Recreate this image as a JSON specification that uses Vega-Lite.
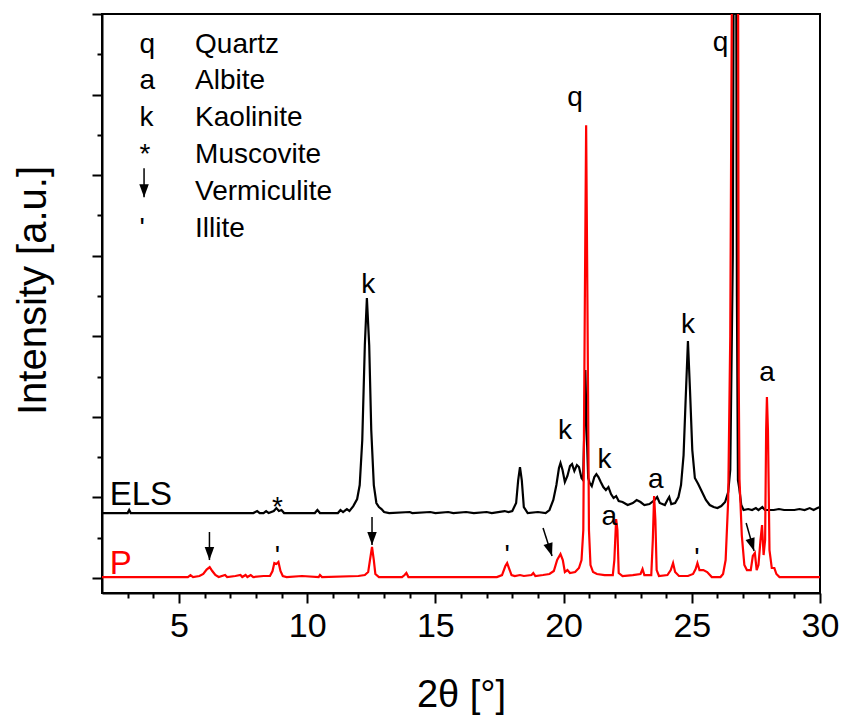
{
  "$schema": "https://vega.github.io/schema/vega-lite/v6.json",
  "width": 718,
  "height": 579,
  "autosize": {"type": "none"},
  "padding": {"left": 102, "top": 14, "right": 23, "bottom": 123},
  "background": "white",
  "config": {
    "font": "Liberation Sans",
    "view": {"stroke": "black", "strokeWidth": 2},
    "axis": {"grid": false, "domainColor": "black", "domainWidth": 2, "tickColor": "black", "tickWidth": 2, "labelColor": "black", "titleColor": "black", "titleFontWeight": "normal", "labelFont": "Liberation Sans", "titleFont": "Liberation Sans", "labelOverlap": false, "labelBound": false, "labelFlush": false}
  },
  "resolve": {"axis": {"x": "independent", "y": "independent"}},
  "datasets": {
    "xrd": [
      {"s":"ELS","x":2.0,"y":0.806},{"s":"ELS","x":3.0,"y":0.806},{"s":"ELS","x":3.06,"y":0.844},{"s":"ELS","x":3.12,"y":0.806},{"s":"ELS","x":6.0,"y":0.806},{"s":"ELS","x":7.9,"y":0.806},{"s":"ELS","x":8.05,"y":0.831},{"s":"ELS","x":8.15,"y":0.806},{"s":"ELS","x":8.3,"y":0.806},{"s":"ELS","x":8.4,"y":0.831},{"s":"ELS","x":8.5,"y":0.806},{"s":"ELS","x":8.7,"y":0.831},{"s":"ELS","x":8.8,"y":0.868},{"s":"ELS","x":8.9,"y":0.831},{"s":"ELS","x":9.0,"y":0.844},{"s":"ELS","x":9.1,"y":0.806},{"s":"ELS","x":10.3,"y":0.806},{"s":"ELS","x":10.4,"y":0.844},{"s":"ELS","x":10.5,"y":0.806},{"s":"ELS","x":11.2,"y":0.806},{"s":"ELS","x":11.3,"y":0.844},{"s":"ELS","x":11.4,"y":0.819},{"s":"ELS","x":11.55,"y":0.856},{"s":"ELS","x":11.65,"y":0.831},{"s":"ELS","x":11.8,"y":0.893},{"s":"ELS","x":11.95,"y":0.98},{"s":"ELS","x":12.05,"y":1.154},{"s":"ELS","x":12.15,"y":1.712},{"s":"ELS","x":12.25,"y":2.891},{"s":"ELS","x":12.33,"y":3.474},{"s":"ELS","x":12.42,"y":2.891},{"s":"ELS","x":12.5,"y":1.836},{"s":"ELS","x":12.6,"y":1.154},{"s":"ELS","x":12.7,"y":0.931},{"s":"ELS","x":12.8,"y":0.881},{"s":"ELS","x":12.9,"y":0.856},{"s":"ELS","x":13.0,"y":0.819},{"s":"ELS","x":13.2,"y":0.806},{"s":"ELS","x":14.0,"y":0.819},{"s":"ELS","x":14.1,"y":0.806},{"s":"ELS","x":14.8,"y":0.819},{"s":"ELS","x":15.0,"y":0.806},{"s":"ELS","x":15.5,"y":0.819},{"s":"ELS","x":15.7,"y":0.806},{"s":"ELS","x":16.2,"y":0.819},{"s":"ELS","x":16.5,"y":0.806},{"s":"ELS","x":17.0,"y":0.819},{"s":"ELS","x":17.2,"y":0.806},{"s":"ELS","x":17.7,"y":0.831},{"s":"ELS","x":17.85,"y":0.819},{"s":"ELS","x":18.0,"y":0.831},{"s":"ELS","x":18.15,"y":0.931},{"s":"ELS","x":18.23,"y":1.216},{"s":"ELS","x":18.3,"y":1.377},{"s":"ELS","x":18.37,"y":1.216},{"s":"ELS","x":18.45,"y":0.881},{"s":"ELS","x":18.6,"y":0.806},{"s":"ELS","x":19.0,"y":0.819},{"s":"ELS","x":19.3,"y":0.806},{"s":"ELS","x":19.45,"y":0.844},{"s":"ELS","x":19.6,"y":0.968},{"s":"ELS","x":19.72,"y":1.154},{"s":"ELS","x":19.82,"y":1.365},{"s":"ELS","x":19.88,"y":1.427},{"s":"ELS","x":19.96,"y":1.34},{"s":"ELS","x":20.05,"y":1.191},{"s":"ELS","x":20.15,"y":1.266},{"s":"ELS","x":20.25,"y":1.39},{"s":"ELS","x":20.33,"y":1.414},{"s":"ELS","x":20.42,"y":1.328},{"s":"ELS","x":20.52,"y":1.402},{"s":"ELS","x":20.6,"y":1.377},{"s":"ELS","x":20.7,"y":1.241},{"s":"ELS","x":20.76,"y":1.216},{"s":"ELS","x":20.8,"y":1.712},{"s":"ELS","x":20.85,"y":2.581},{"s":"ELS","x":20.9,"y":1.836},{"s":"ELS","x":20.96,"y":1.241},{"s":"ELS","x":21.02,"y":1.179},{"s":"ELS","x":21.1,"y":1.141},{"s":"ELS","x":21.2,"y":1.253},{"s":"ELS","x":21.28,"y":1.29},{"s":"ELS","x":21.36,"y":1.253},{"s":"ELS","x":21.45,"y":1.191},{"s":"ELS","x":21.55,"y":1.129},{"s":"ELS","x":21.65,"y":1.092},{"s":"ELS","x":21.75,"y":1.129},{"s":"ELS","x":21.85,"y":1.042},{"s":"ELS","x":21.95,"y":0.993},{"s":"ELS","x":22.05,"y":1.017},{"s":"ELS","x":22.15,"y":0.955},{"s":"ELS","x":22.3,"y":0.943},{"s":"ELS","x":22.5,"y":0.906},{"s":"ELS","x":22.7,"y":0.931},{"s":"ELS","x":22.85,"y":0.968},{"s":"ELS","x":23.0,"y":0.943},{"s":"ELS","x":23.15,"y":0.906},{"s":"ELS","x":23.35,"y":0.918},{"s":"ELS","x":23.55,"y":0.968},{"s":"ELS","x":23.65,"y":1.005},{"s":"ELS","x":23.75,"y":0.931},{"s":"ELS","x":23.95,"y":0.906},{"s":"ELS","x":24.05,"y":0.968},{"s":"ELS","x":24.12,"y":1.005},{"s":"ELS","x":24.2,"y":0.918},{"s":"ELS","x":24.35,"y":0.931},{"s":"ELS","x":24.48,"y":1.005},{"s":"ELS","x":24.58,"y":1.154},{"s":"ELS","x":24.68,"y":1.526},{"s":"ELS","x":24.76,"y":2.208},{"s":"ELS","x":24.85,"y":2.94},{"s":"ELS","x":24.93,"y":2.333},{"s":"ELS","x":25.02,"y":1.588},{"s":"ELS","x":25.12,"y":1.241},{"s":"ELS","x":25.25,"y":1.166},{"s":"ELS","x":25.4,"y":1.067},{"s":"ELS","x":25.55,"y":0.968},{"s":"ELS","x":25.7,"y":0.906},{"s":"ELS","x":25.85,"y":0.881},{"s":"ELS","x":26.0,"y":0.868},{"s":"ELS","x":26.15,"y":0.893},{"s":"ELS","x":26.3,"y":0.943},{"s":"ELS","x":26.42,"y":1.067},{"s":"ELS","x":26.5,"y":1.34},{"s":"ELS","x":26.6,"y":4.0},{"s":"ELS","x":26.65,"y":9.6},{"s":"ELS","x":26.72,"y":9.6},{"s":"ELS","x":26.76,"y":3.5},{"s":"ELS","x":26.8,"y":1.216},{"s":"ELS","x":26.85,"y":1.117},{"s":"ELS","x":26.93,"y":0.906},{"s":"ELS","x":27.02,"y":0.844},{"s":"ELS","x":27.2,"y":0.856},{"s":"ELS","x":27.35,"y":0.844},{"s":"ELS","x":27.5,"y":0.868},{"s":"ELS","x":27.6,"y":0.844},{"s":"ELS","x":27.75,"y":0.881},{"s":"ELS","x":27.85,"y":0.844},{"s":"ELS","x":28.2,"y":0.844},{"s":"ELS","x":28.4,"y":0.856},{"s":"ELS","x":28.6,"y":0.844},{"s":"ELS","x":29.0,"y":0.844},{"s":"ELS","x":29.2,"y":0.856},{"s":"ELS","x":29.4,"y":0.844},{"s":"ELS","x":29.6,"y":0.868},{"s":"ELS","x":29.75,"y":0.844},{"s":"ELS","x":29.9,"y":0.868},{"s":"ELS","x":30.0,"y":0.881},
      {"s":"P","x":2.0,"y":0.012},{"s":"P","x":4.0,"y":0.012},{"s":"P","x":5.35,"y":0.012},{"s":"P","x":5.45,"y":0.035},{"s":"P","x":5.55,"y":0.012},{"s":"P","x":5.8,"y":0.025},{"s":"P","x":5.95,"y":0.05},{"s":"P","x":6.08,"y":0.105},{"s":"P","x":6.2,"y":0.136},{"s":"P","x":6.3,"y":0.087},{"s":"P","x":6.42,"y":0.037},{"s":"P","x":6.55,"y":0.012},{"s":"P","x":6.8,"y":0.037},{"s":"P","x":6.88,"y":0.012},{"s":"P","x":7.2,"y":0.025},{"s":"P","x":7.4,"y":0.037},{"s":"P","x":7.47,"y":0.012},{"s":"P","x":7.6,"y":0.037},{"s":"P","x":7.67,"y":0.012},{"s":"P","x":7.8,"y":0.037},{"s":"P","x":7.9,"y":0.012},{"s":"P","x":8.3,"y":0.025},{"s":"P","x":8.55,"y":0.025},{"s":"P","x":8.65,"y":0.087},{"s":"P","x":8.72,"y":0.186},{"s":"P","x":8.8,"y":0.174},{"s":"P","x":8.88,"y":0.199},{"s":"P","x":8.96,"y":0.087},{"s":"P","x":9.05,"y":0.025},{"s":"P","x":9.2,"y":0.012},{"s":"P","x":9.8,"y":0.025},{"s":"P","x":10.45,"y":0.012},{"s":"P","x":10.5,"y":0.037},{"s":"P","x":10.58,"y":0.012},{"s":"P","x":12.0,"y":0.025},{"s":"P","x":12.25,"y":0.037},{"s":"P","x":12.38,"y":0.074},{"s":"P","x":12.45,"y":0.223},{"s":"P","x":12.53,"y":0.385},{"s":"P","x":12.6,"y":0.223},{"s":"P","x":12.66,"y":0.05},{"s":"P","x":12.8,"y":0.012},{"s":"P","x":13.7,"y":0.012},{"s":"P","x":13.8,"y":0.037},{"s":"P","x":13.87,"y":0.062},{"s":"P","x":13.95,"y":0.012},{"s":"P","x":17.4,"y":0.012},{"s":"P","x":17.6,"y":0.037},{"s":"P","x":17.73,"y":0.149},{"s":"P","x":17.8,"y":0.186},{"s":"P","x":17.87,"y":0.124},{"s":"P","x":17.97,"y":0.037},{"s":"P","x":18.1,"y":0.025},{"s":"P","x":18.3,"y":0.037},{"s":"P","x":18.45,"y":0.025},{"s":"P","x":18.75,"y":0.037},{"s":"P","x":18.82,"y":0.062},{"s":"P","x":18.9,"y":0.025},{"s":"P","x":19.2,"y":0.037},{"s":"P","x":19.45,"y":0.05},{"s":"P","x":19.62,"y":0.087},{"s":"P","x":19.75,"y":0.223},{"s":"P","x":19.88,"y":0.298},{"s":"P","x":19.97,"y":0.223},{"s":"P","x":20.05,"y":0.074},{"s":"P","x":20.15,"y":0.099},{"s":"P","x":20.25,"y":0.062},{"s":"P","x":20.45,"y":0.074},{"s":"P","x":20.6,"y":0.124},{"s":"P","x":20.7,"y":0.223},{"s":"P","x":20.77,"y":0.596},{"s":"P","x":20.83,"y":3.449},{"s":"P","x":20.88,"y":5.62},{"s":"P","x":20.93,"y":3.449},{"s":"P","x":20.99,"y":0.596},{"s":"P","x":21.05,"y":0.161},{"s":"P","x":21.15,"y":0.074},{"s":"P","x":21.3,"y":0.05},{"s":"P","x":21.6,"y":0.037},{"s":"P","x":21.92,"y":0.037},{"s":"P","x":21.98,"y":0.223},{"s":"P","x":22.05,"y":0.732},{"s":"P","x":22.1,"y":0.596},{"s":"P","x":22.15,"y":0.062},{"s":"P","x":22.3,"y":0.025},{"s":"P","x":22.7,"y":0.037},{"s":"P","x":23.0,"y":0.05},{"s":"P","x":23.08,"y":0.112},{"s":"P","x":23.15,"y":0.037},{"s":"P","x":23.42,"y":0.037},{"s":"P","x":23.48,"y":0.471},{"s":"P","x":23.53,"y":1.017},{"s":"P","x":23.58,"y":0.72},{"s":"P","x":23.63,"y":0.099},{"s":"P","x":23.72,"y":0.025},{"s":"P","x":24.05,"y":0.037},{"s":"P","x":24.18,"y":0.099},{"s":"P","x":24.27,"y":0.186},{"s":"P","x":24.35,"y":0.074},{"s":"P","x":24.5,"y":0.025},{"s":"P","x":24.85,"y":0.025},{"s":"P","x":25.05,"y":0.05},{"s":"P","x":25.15,"y":0.112},{"s":"P","x":25.22,"y":0.186},{"s":"P","x":25.3,"y":0.099},{"s":"P","x":25.45,"y":0.099},{"s":"P","x":25.6,"y":0.074},{"s":"P","x":25.78,"y":0.012},{"s":"P","x":26.12,"y":0.012},{"s":"P","x":26.22,"y":0.05},{"s":"P","x":26.32,"y":0.223},{"s":"P","x":26.42,"y":0.968},{"s":"P","x":26.5,"y":3.0},{"s":"P","x":26.58,"y":8.4},{"s":"P","x":26.8,"y":8.4},{"s":"P","x":26.83,"y":2.5},{"s":"P","x":26.86,"y":1.228},{"s":"P","x":26.95,"y":0.533},{"s":"P","x":27.05,"y":0.161},{"s":"P","x":27.15,"y":0.099},{"s":"P","x":27.3,"y":0.099},{"s":"P","x":27.38,"y":0.273},{"s":"P","x":27.46,"y":0.31},{"s":"P","x":27.53,"y":0.099},{"s":"P","x":27.6,"y":0.161},{"s":"P","x":27.68,"y":0.471},{"s":"P","x":27.74,"y":0.658},{"s":"P","x":27.8,"y":0.285},{"s":"P","x":27.86,"y":0.471},{"s":"P","x":27.9,"y":1.836},{"s":"P","x":27.93,"y":2.246},{"s":"P","x":27.97,"y":1.836},{"s":"P","x":28.03,"y":0.347},{"s":"P","x":28.12,"y":0.124},{"s":"P","x":28.22,"y":0.124},{"s":"P","x":28.3,"y":0.05},{"s":"P","x":28.42,"y":0.012},{"s":"P","x":30.0,"y":0.012}
    ],
    "series_labels": [
      {"s":"ELS","label":"ELS","x":2.3,"y":0.906},
      {"s":"P","label":"P","x":2.3,"y":0.05}
    ],
    "legend_symbols": [
      {"label":"q","x":3.46,"y":6.51},
      {"label":"a","x":3.46,"y":6.067},
      {"label":"k","x":3.46,"y":5.608},
      {"label":"*","x":3.46,"y":5.149},
      {"label":"'","x":3.46,"y":4.231}
    ],
    "legend_names": [
      {"label":"Quartz","x":5.63,"y":6.51},
      {"label":"Albite","x":5.63,"y":6.067},
      {"label":"Kaolinite","x":5.63,"y":5.608},
      {"label":"Muscovite","x":5.63,"y":5.149},
      {"label":"Vermiculite","x":5.63,"y":4.69},
      {"label":"Illite","x":5.63,"y":4.231}
    ],
    "peak_labels": [
      {"label":"k","x":12.38,"y":3.536},
      {"label":"*","x":8.84,"y":0.77},
      {"label":"q","x":20.45,"y":5.856},
      {"label":"k","x":20.06,"y":1.725},
      {"label":"k","x":21.6,"y":1.365},
      {"label":"a","x":21.78,"y":0.658},
      {"label":"a","x":23.6,"y":1.117},
      {"label":"k","x":24.85,"y":3.04},
      {"label":"a","x":27.93,"y":2.444},
      {"label":"q","x":26.12,"y":6.54},
      {"label":"'","x":8.84,"y":0.161},
      {"label":"'","x":17.8,"y":0.174},
      {"label":"'","x":25.2,"y":0.136}
    ],
    "arrows": [
      {"kind":"v","x":6.19,"y":0.571,"x2":6.19,"y2":0.223},
      {"kind":"v","x":12.53,"y":0.757,"x2":12.53,"y2":0.409},
      {"kind":"s","x":19.2,"y":0.62,"x2":19.55,"y2":0.273},
      {"kind":"s","x":27.12,"y":0.682,"x2":27.43,"y2":0.335},
      {"kind":"v","x":3.64,"y":5.087,"x2":3.64,"y2":4.727}
    ]
  },
  "layer": [
    {
      "data": {"name": "xrd"},
      "mark": {"type": "line", "strokeWidth": 2.2, "clip": true, "interpolate": "linear"},
      "encoding": {
        "x": {"field": "x", "type": "quantitative",
          "scale": {"domain": [2, 30], "nice": false, "zero": false},
          "axis": {
            "orient": "bottom",
            "values": [5,10,15,20,25,30],
            "tickSize": 10,
            "labelFontSize": 34, "labelPadding": 6,
            "title": "2θ [°]", "titleFontSize": 38, "titleX": 359, "titleY": 83, "titleBaseline": "top"
          }
        },
        "y": {"field": "y", "type": "quantitative",
          "scale": {"domain": [-0.186, 7], "nice": false, "zero": false},
          "axis": {
            "orient": "left",
            "values": [0,1,2,3,4,5,6,7],
            "tickSize": 10,
            "labels": false,
            "title": "Intensity [a.u.]", "titleFontSize": 40, "titleX": -49, "titleY": 276, "titleBaseline": "bottom", "titleAngle": -90
          }
        },
        "color": {"field": "s", "type": "nominal", "scale": {"domain": ["ELS", "P"], "range": ["#000000", "#ff0000"]}, "legend": null},
        "detail": {"field": "s"}
      }
    },
    {
      "data": {"name": "series_labels"},
      "mark": {"type": "text", "fontSize": 33, "align": "left", "baseline": "alphabetic"},
      "encoding": {
        "x": {"field": "x", "type": "quantitative", "axis": {"orient": "bottom", "values": [3,4,6,7,8,9,11,12,13,14,16,17,18,19,21,22,23,24,26,27,28,29], "tickSize": 5, "labels": false, "domain": false, "title": null}},
        "y": {"field": "y", "type": "quantitative", "axis": {"orient": "left", "values": [0.5,1.5,2.5,3.5,4.5,5.5,6.5], "tickSize": 5, "labels": false, "domain": false, "title": null}},
        "text": {"field": "label"},
        "color": {"field": "s", "type": "nominal", "legend": null}
      }
    },
    {
      "data": {"name": "legend_symbols"},
      "mark": {"type": "text", "fontSize": 28, "align": "left", "baseline": "alphabetic", "color": "black"},
      "encoding": {
        "x": {"field": "x", "type": "quantitative", "axis": null},
        "y": {"field": "y", "type": "quantitative", "axis": null},
        "text": {"field": "label"}
      }
    },
    {
      "data": {"name": "legend_names"},
      "mark": {"type": "text", "fontSize": 28, "align": "left", "baseline": "alphabetic", "color": "black"},
      "encoding": {
        "x": {"field": "x", "type": "quantitative", "axis": null},
        "y": {"field": "y", "type": "quantitative", "axis": null},
        "text": {"field": "label"}
      }
    },
    {
      "data": {"name": "peak_labels"},
      "mark": {"type": "text", "fontSize": 28, "align": "center", "baseline": "alphabetic", "color": "black"},
      "encoding": {
        "x": {"field": "x", "type": "quantitative", "axis": null},
        "y": {"field": "y", "type": "quantitative", "axis": null},
        "text": {"field": "label"}
      }
    },
    {
      "data": {"name": "arrows"},
      "mark": {"type": "rule", "color": "black", "strokeWidth": 1.5},
      "encoding": {
        "x": {"field": "x", "type": "quantitative", "axis": null},
        "y": {"field": "y", "type": "quantitative", "axis": null},
        "x2": {"field": "x2"},
        "y2": {"field": "y2"}
      }
    },
    {
      "data": {"name": "arrows"},
      "transform": [{"filter": "datum.kind === 'v'"}],
      "mark": {"type": "point", "shape": "M-0.8,-2.2L0.8,-2.2L0,0Z", "filled": true, "color": "black", "opacity": 1, "size": 140, "strokeWidth": 0},
      "encoding": {
        "x": {"field": "x2", "type": "quantitative", "axis": null},
        "y": {"field": "y2", "type": "quantitative", "axis": null}
      }
    },
    {
      "data": {"name": "arrows"},
      "transform": [{"filter": "datum.kind === 's'"}],
      "mark": {"type": "point", "shape": "M-0.8,-2.2L0.8,-2.2L0,0Z", "filled": true, "color": "black", "opacity": 1, "size": 140, "strokeWidth": 0, "angle": -18},
      "encoding": {
        "x": {"field": "x2", "type": "quantitative", "axis": null},
        "y": {"field": "y2", "type": "quantitative", "axis": null}
      }
    }
  ]
}
